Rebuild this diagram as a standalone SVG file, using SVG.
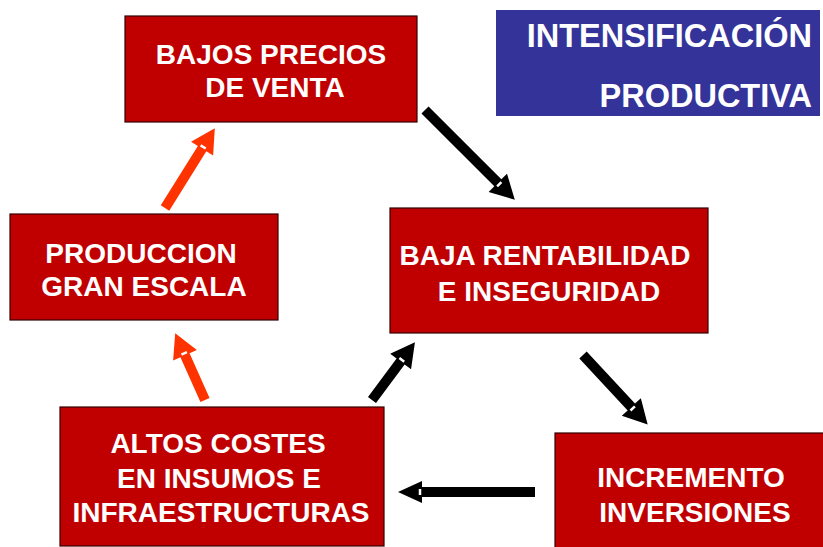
<svg xmlns="http://www.w3.org/2000/svg" width="823" height="547" viewBox="0 0 823 547">
<style>
.box{fill:#C00000;stroke:#300;stroke-width:1.2}
.t{font-family:"Liberation Sans",Arial,sans-serif;font-weight:bold;font-size:28px;fill:#fff;text-anchor:middle}
.tr{text-anchor:end;font-size:32.5px}
.ra{fill:#FF3300}
.ba{fill:#000}
.n{stroke:#fff;stroke-width:2.5}
</style>
<rect width="823" height="547" fill="#fff"/>
<g id="intensificacion">
<rect x="496" y="10" width="324" height="106" fill="#333399"/>
<text class="t tr" x="812" y="47">INTENSIFICACIÓN</text>
<text class="t tr" x="812" y="107">PRODUCTIVA</text>
</g>
<g id="bajos-precios">
<rect class="box" x="125" y="16" width="292" height="106"/>
<text class="t" x="271" y="64">BAJOS PRECIOS</text>
<text class="t" x="275" y="97">DE VENTA</text>
</g>
<g id="produccion">
<rect class="box" x="10" y="214" width="268" height="106"/>
<text class="t" x="141" y="263">PRODUCCION</text>
<text class="t" x="144" y="296">GRAN ESCALA</text>
</g>
<g id="baja-rentabilidad">
<rect class="box" x="390" y="208" width="318" height="125"/>
<text class="t" x="545" y="265">BAJA RENTABILIDAD</text>
<text class="t" x="549" y="301">E INSEGURIDAD</text>
</g>
<g id="altos-costes">
<rect class="box" x="60" y="407" width="324" height="139"/>
<text class="t" x="218" y="453">ALTOS COSTES</text>
<text class="t" x="219" y="488">EN INSUMOS E</text>
<text class="t" x="221" y="522">INFRAESTRUCTURAS</text>
</g>
<g id="incremento">
<rect class="box" x="555" y="433" width="270" height="115"/>
<text class="t" x="691" y="487">INCREMENTO</text>
<text class="t" x="695" y="522">INVERSIONES</text>
</g>
<g id="connectors">
<g transform="translate(165,208) rotate(-58)">
<path class="ra" d="M0,-5 H70 V-13 L94,0 L70,13 V5 H0 Z"/>
<line class="n" x1="72" y1="-3" x2="72" y2="3"/>
</g>
<g transform="translate(205,400) rotate(-114.1)">
<path class="ra" d="M0,-5 H49 V-13 L73,0 L49,13 V5 H0 Z"/>
<line class="n" x1="51" y1="-3" x2="51" y2="3"/>
</g>
<g transform="translate(425,110) rotate(45)">
<path class="ba" d="M0,-5 H103 V-13 L127,0 L103,13 V5 H0 Z"/>
<line class="n" x1="105" y1="-3" x2="105" y2="3"/>
</g>
<g transform="translate(372,400) rotate(-53.4)">
<path class="ba" d="M0,-5 H48 V-13 L72,0 L48,13 V5 H0 Z"/>
<line class="n" x1="50" y1="-3" x2="50" y2="3"/>
</g>
<g transform="translate(535,492) rotate(180)">
<path class="ba" d="M0,-5 H113 V-11 L137,0 L113,11 V5 H0 Z"/>
<line class="n" x1="115" y1="-3" x2="115" y2="3"/>
</g>
<g transform="translate(583,355) rotate(47.1)">
<path class="ba" d="M0,-5 H71 V-13 L95,0 L71,13 V5 H0 Z"/>
<line class="n" x1="73" y1="-3" x2="73" y2="3"/>
</g>
</g>
</svg>
